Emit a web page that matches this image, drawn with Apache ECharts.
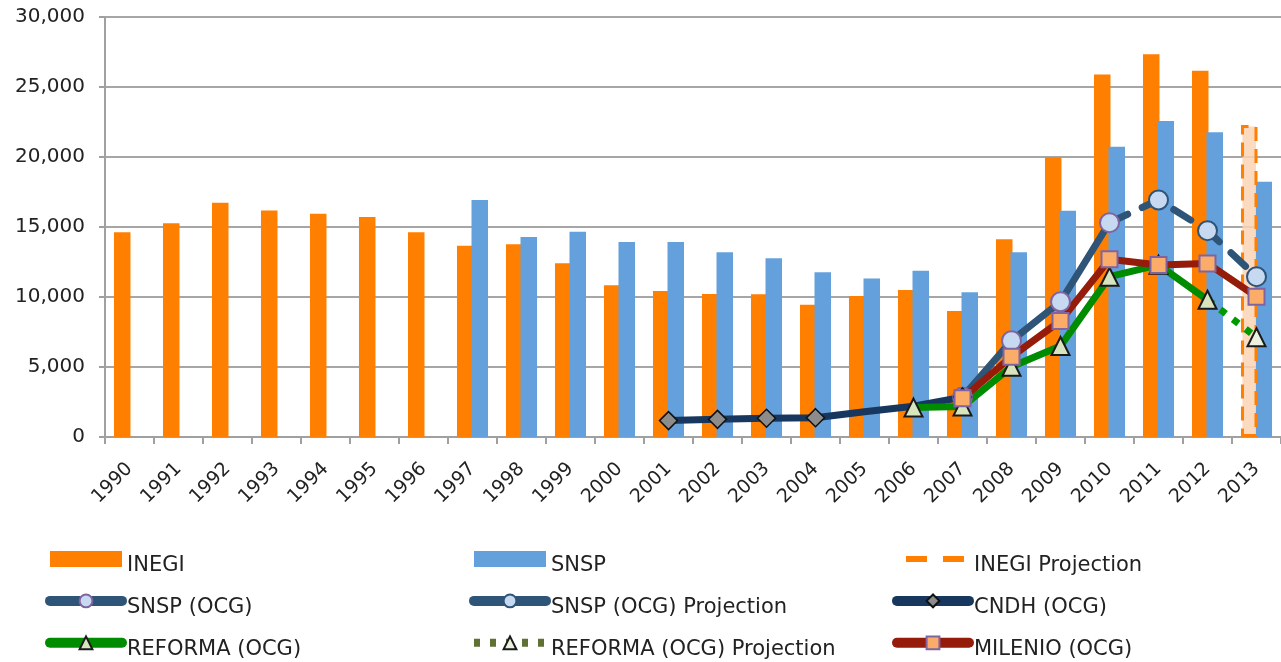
<!DOCTYPE html>
<html>
<head>
<meta charset="utf-8">
<script src="https://cdn.jsdelivr.net/npm/echarts@6/dist/echarts.min.js"></script>
<style>
html,body{margin:0;padding:0;background:#fff;}
#chart{width:1281px;height:662px;}
</style>
</head>
<body>
<div id="chart"></div>
<script>
var years = ['1990','1991','1992','1993','1994','1995','1996','1997','1998','1999','2000','2001','2002','2003','2004','2005','2006','2007','2008','2009','2010','2011','2012','2013'];
var inegi = [14620,15260,16740,16170,15950,15710,14620,13660,13760,12410,10840,10430,10210,10200,9450,10070,10500,9000,14120,19980,25900,27340,26160,null];
var inegiProjection = [null,null,null,null,null,null,null,null,null,null,null,null,null,null,null,null,null,null,null,null,null,null,null,22290];
var snsp = [null,null,null,null,null,null,null,16930,14290,14660,13930,13930,13200,12770,11760,11320,11880,10340,13190,16160,20740,22570,21760,18240];
var snspOcg = [null,null,null,null,null,null,null,null,null,null,null,null,null,null,null,null,null,2850,6880,9660,15310,null,null,null];
var snspOcgProjection = [null,null,null,null,null,null,null,null,null,null,null,null,null,null,null,null,null,null,null,null,15310,16930,14740,11450];
var cndhOcg = [null,null,null,null,null,null,null,null,null,null,null,1170,1260,1340,1380,1810,2200,2850,null,null,null,null,null,null];
var reformaOcg = [null,null,null,null,null,null,null,null,null,null,null,null,null,null,null,null,2100,2170,5020,6500,11450,12300,9800,null];
var reformaOcgProjection = [null,null,null,null,null,null,null,null,null,null,null,null,null,null,null,null,null,null,null,null,null,null,9800,7120];
var milenioOcg = [null,null,null,null,null,null,null,null,null,null,null,null,null,null,null,null,null,2760,5740,8290,12690,12290,12400,10020];

function toData(arr, hideIdx) {
  return arr.map(function (v, i) {
    if (v === null) return '-';
    if (hideIdx && hideIdx.indexOf(i) >= 0) return { value: v, symbol: 'none' };
    return v;
  });
}

var FONT = 'DejaVu Sans';
var chart = echarts.init(document.getElementById('chart'));

function legend(left, items) {
  return {
    orient: 'vertical',
    left: left,
    top: 546,
    height: 300,
    itemWidth: 72,
    itemHeight: 16,
    itemGap: 17,
    selectedMode: false,
    formatter: function (name) { return '{t|' + name + '}'; },
    textStyle: {
      fontFamily: FONT, fontSize: 21, color: '#222',
      rich: { t: { fontFamily: FONT, fontSize: 21, color: '#222', padding: [14, 0, 0, 0] } }
    },
    lineStyle: { width: 10, cap: 'round', type: 'solid' },
    data: items
  };
}

var option = {
  animation: false,
  backgroundColor: '#fff',
  textStyle: { fontFamily: FONT },
  grid: { left: 105, right: 0, top: 17, bottom: 225, containLabel: false },
  legend: [
    legend(40, [
      { name: 'INEGI', icon: 'rect' },
      { name: 'SNSP (OCG)' },
      { name: 'REFORMA (OCG)' }
    ]),
    legend(464, [
      { name: 'SNSP', icon: 'rect' },
      { name: 'SNSP (OCG) Projection', lineStyle: { type: 'solid', width: 10 } },
      { name: 'REFORMA (OCG) Projection', lineStyle: { type: [6, 10], width: 8, color: '#5f7134', cap: 'butt' } }
    ]),
    legend(887, [
      { name: 'INEGI Projection', icon: 'path://M0,0h0.01v0.01h-0.01z M9,5h21v6h-21z M46,5h21v6h-21z M72,16h0.01v0.01h-0.01z', itemStyle: { color: '#ff7f00', borderWidth: 0 } },
      { name: 'CNDH (OCG)' },
      { name: 'MILENIO (OCG)' }
    ])
  ],
  xAxis: {
    type: 'category',
    data: years,
    boundaryGap: true,
    axisLine: { show: true, lineStyle: { color: '#a0a0a0', width: 2 } },
    axisTick: { show: true, length: 7, interval: 0, lineStyle: { color: '#a0a0a0', width: 2 } },
    axisLabel: { interval: 0, rotate: 45, margin: 29, fontFamily: FONT, fontSize: 19, color: '#222' }
  },
  yAxis: {
    type: 'value',
    min: 0,
    max: 30000,
    interval: 5000,
    axisLine: { show: true, lineStyle: { color: '#a0a0a0', width: 2 } },
    axisTick: { show: true, length: 6, lineStyle: { color: '#a0a0a0', width: 2 } },
    splitLine: { show: true, lineStyle: { color: '#a6a6a6', width: 2 } },
    axisLabel: { margin: 20, fontFamily: FONT, fontSize: 20, color: '#222' }
  },
  series: [
    {
      name: 'INEGI', type: 'bar', stack: 'inegi', data: toData(inegi),
      barWidth: 16.5,
      itemStyle: { color: '#ff7f00' }
    },
    {
      name: 'SNSP', type: 'bar', data: toData(snsp),
      barWidth: 16.5, barGap: '-12%',
      itemStyle: { color: '#64a0dc' }
    },
    {
      name: 'INEGI Projection', type: 'bar', stack: 'inegi', data: toData(inegiProjection),
      barWidth: 16.5,
      itemStyle: { color: 'rgba(251,212,180,0.85)', borderColor: '#ff7f00', borderWidth: 3, borderType: [14, 8] }
    },
    {
      name: 'SNSP (OCG)', type: 'line', data: toData(snspOcg),
      symbol: 'circle', symbolSize: 19,
      lineStyle: { color: '#2e5478', width: 7, cap: 'round', join: 'round' },
      itemStyle: { color: '#c6d9f1', borderColor: '#8064a2', borderWidth: 2 }
    },
    {
      name: 'SNSP (OCG) Projection', type: 'line', data: toData(snspOcgProjection, [20]),
      symbol: 'circle', symbolSize: 19,
      lineStyle: { color: '#2e5478', width: 7, type: [20, 16], cap: 'round', join: 'round' },
      itemStyle: { color: '#c6d9f1', borderColor: '#2e5478', borderWidth: 2 }
    },
    {
      name: 'CNDH (OCG)', type: 'line', data: toData(cndhOcg, [15, 16]),
      symbol: 'diamond', symbolSize: 18,
      lineStyle: { color: '#17375e', width: 7, cap: 'round', join: 'round' },
      itemStyle: { color: '#8c8c8c', borderColor: '#111', borderWidth: 1.5 }
    },
    {
      name: 'REFORMA (OCG)', type: 'line', data: toData(reformaOcg),
      symbol: 'triangle', symbolSize: 18,
      lineStyle: { color: '#008c00', width: 7, cap: 'round', join: 'round' },
      itemStyle: { color: '#d7e4bd', borderColor: '#1a1a1a', borderWidth: 2 }
    },
    {
      name: 'REFORMA (OCG) Projection', type: 'line', data: toData(reformaOcgProjection, [22]),
      symbol: 'triangle', symbolSize: 18,
      lineStyle: { color: '#009a00', width: 7, type: [7, 9], cap: 'butt' },
      itemStyle: { color: '#ebf1de', borderColor: '#1a1a1a', borderWidth: 2 }
    },
    {
      name: 'MILENIO (OCG)', type: 'line', data: toData(milenioOcg),
      symbol: 'rect', symbolSize: 16,
      lineStyle: { color: '#951b0b', width: 7, cap: 'round', join: 'round' },
      itemStyle: { color: '#fbac68', borderColor: '#8064a2', borderWidth: 2 }
    }
  ]
};
chart.setOption(option);
</script>
</body>
</html>
